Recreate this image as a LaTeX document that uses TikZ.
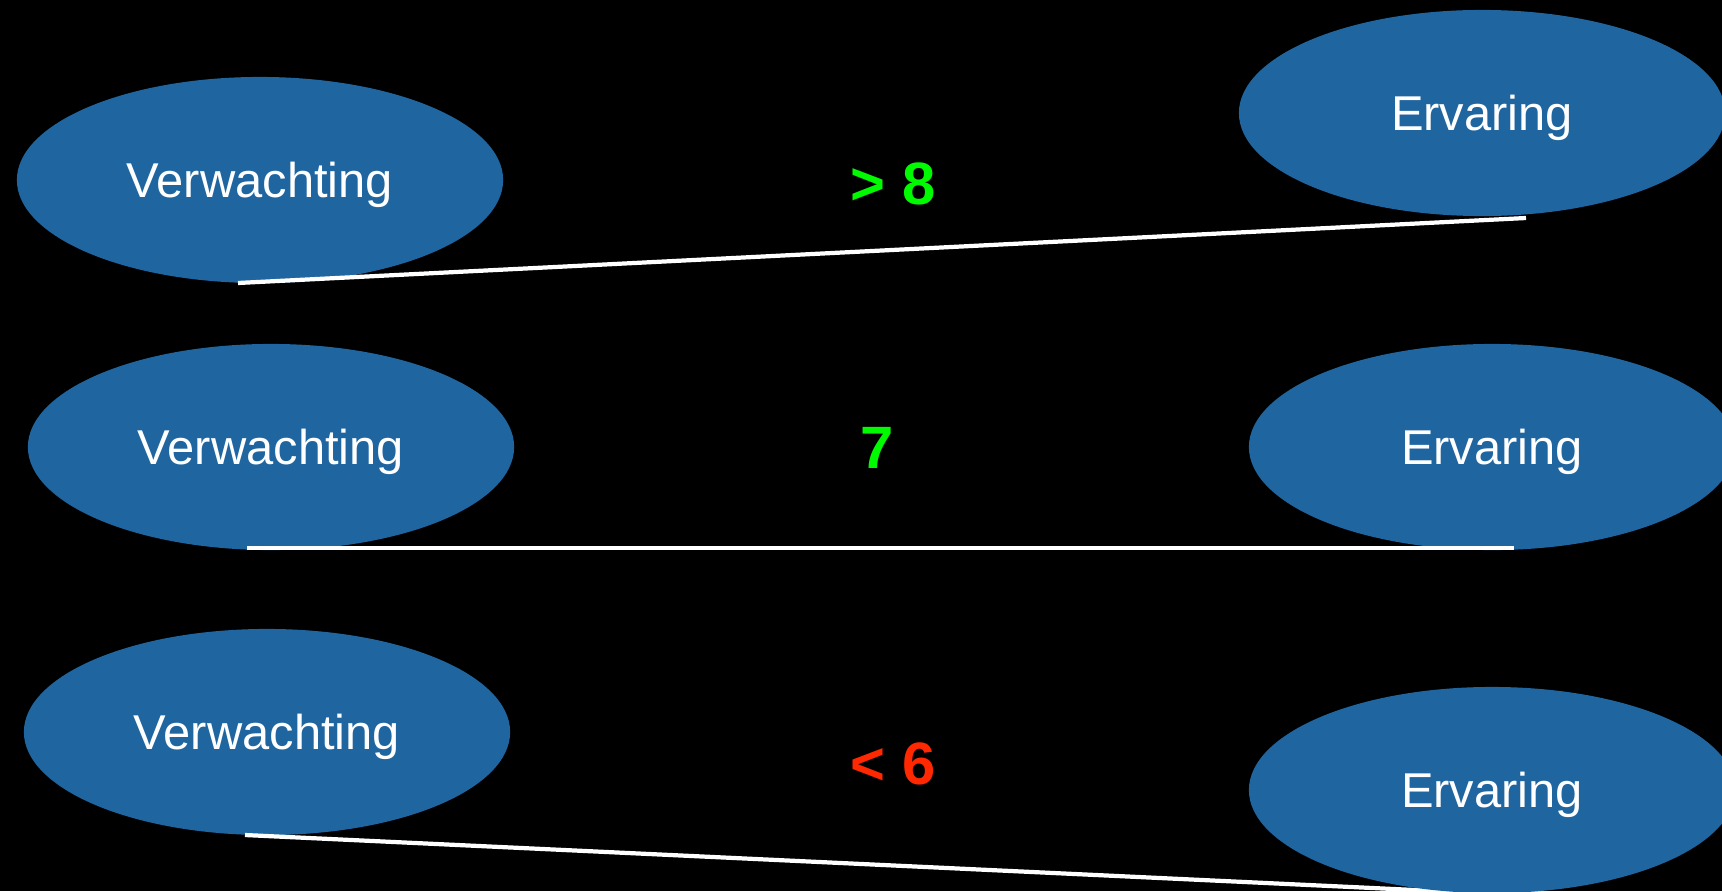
\documentclass[tikz,border=0pt]{standalone}
\usepackage{fontspec}
\setmainfont{Liberation Sans}
\usetikzlibrary{shapes.geometric}
\definecolor{ovalblue}{RGB}{31,101,160}
\definecolor{goodgreen}{RGB}{0,250,0}
\definecolor{badred}{RGB}{255,40,0}
\tikzset{
  oval/.style={ellipse,fill=ovalblue,minimum width=4.86cm,minimum height=2.06cm,
    inner sep=0pt,text=white,font=\fontsize{13.9}{16}\selectfont,
    text height=0.35cm,text depth=0cm},
  score/.style={font=\fontsize{17}{20}\selectfont\bfseries},
  link/.style={white,line width=1.2pt}
}
\begin{document}
\begin{tikzpicture}[x=0.01cm,y=-0.01cm]

\fill[black] (0,0) rectangle (1722,891);
\useasboundingbox (0,0) rectangle (1722,891);

% boven: ervaring groter dan verwachting
\node[oval] (V1) at (260,180) {Verwachting};
\node[oval] (E1) at (1482,113) {Ervaring};
\node[score,text=goodgreen] (S1) at (893,184) {> 8};
\coordinate (a1) at (238,283);
\coordinate (b1) at (1526,218);
\draw[link] (a1)--(b1);

% midden: gelijk
\node[oval] (V2) at (271,447) {Verwachting};
\node[oval] (E2) at (1492,447) {Ervaring};
\node[score,text=goodgreen] (S2) at (877,448) {7};
\coordinate (a2) at (247,548);
\coordinate (b2) at (1514,548);
\draw[link] (a2)--(b2);

% onder: ervaring lager dan verwachting
\node[oval] (V3) at (267,732) {Verwachting};
\coordinate (a3) at (245,835);
\coordinate (b3) at (1500,894);
\draw[link] (a3)--(b3);
\node[oval] (E3) at (1492,790) {Ervaring};
\node[score,text=badred] (S3) at (893,764) {< 6};

\end{tikzpicture}
\end{document}
